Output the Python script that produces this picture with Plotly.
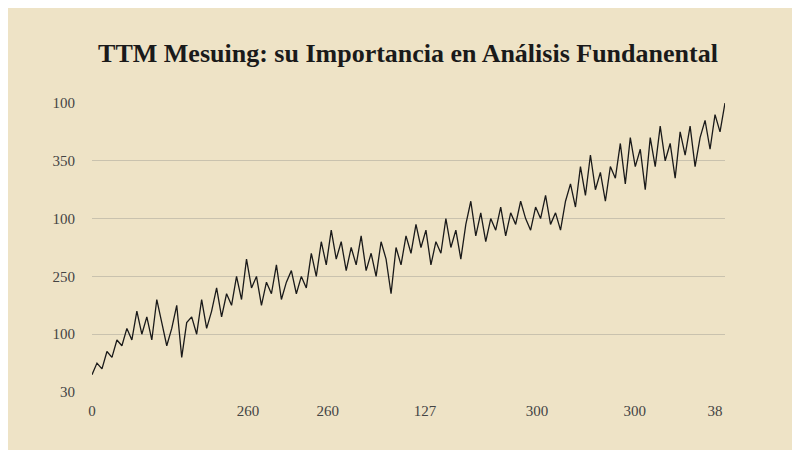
import plotly.graph_objects as go

# series values (grid units, bottom gridline = 0, top gridline = 5)
values = [
    0.3, 0.5, 0.4, 0.7, 0.6, 0.9, 0.8, 1.1, 0.9, 1.4, 1.0, 1.3, 0.9, 1.6, 1.2, 0.8,
    1.1, 1.5, 0.6, 1.2, 1.3, 1.0, 1.6, 1.1, 1.4, 1.8, 1.3, 1.7, 1.5, 2.0, 1.6, 2.3,
    1.8, 2.0, 1.5, 1.9, 1.7, 2.2, 1.6, 1.9, 2.1, 1.7, 2.0, 1.8, 2.4, 2.0, 2.6, 2.2,
    2.8, 2.3, 2.6, 2.1, 2.5, 2.2, 2.7, 2.1, 2.4, 2.0, 2.6, 2.3, 1.7, 2.5, 2.2, 2.7,
    2.4, 2.9, 2.5, 2.8, 2.2, 2.6, 2.4, 3.0, 2.5, 2.8, 2.3, 2.9, 3.3, 2.7, 3.1, 2.6,
    3.0, 2.8, 3.2, 2.7, 3.1, 2.9, 3.3, 3.0, 2.8, 3.2, 3.0, 3.4, 2.9, 3.1, 2.8, 3.3,
    3.6, 3.2, 3.9, 3.4, 4.1, 3.5, 3.8, 3.3, 3.9, 3.7, 4.3, 3.6, 4.4, 3.9, 4.2, 3.5,
    4.4, 3.9, 4.6, 4.0, 4.3, 3.7, 4.5, 4.1, 4.6, 3.9, 4.4, 4.7, 4.2, 4.8, 4.5, 5.0,
]
x = list(range(len(values)))

y_tickvals = [0, 1, 2, 3, 4, 5]
y_ticktext = ["30", "100", "250", "100", "350", "100"]
x_tickvals = [0, 31.3, 47.3, 66.8, 89.3, 108.9, 125]
x_ticktext = ["0", "260", "260", "127", "300", "300", "38"]

fig = go.Figure(go.Scatter(x=x, y=values, mode="lines",
                           line=dict(color="#1a1a1a", width=1.3)))

fig.update_layout(
    width=800, height=450,
    paper_bgcolor="#eee3c6", plot_bgcolor="rgba(0,0,0,0)",
    margin=dict(l=84, r=83, t=95, b=66),
    showlegend=False,
    title=dict(text="<b>TTM Mesuing: su Importancia en Análisis Fundanental</b>",
               x=0.5, y=0.9, xanchor="center", yanchor="middle",
               font=dict(family="Liberation Serif", size=26, color="#1a1a1a")),
    font=dict(family="Liberation Serif", size=15, color="#444"),
)
fig.update_xaxes(range=[0, 127], tickvals=x_tickvals, ticktext=x_ticktext,
                 showgrid=False, zeroline=False, showline=False, ticklen=0,
                 ticklabelstandoff=8)
fig.update_yaxes(range=[0, 5], tickvals=y_tickvals, ticktext=y_ticktext,
                 showgrid=True, gridcolor="#c9c2ae", gridwidth=1.2,
                 zeroline=False, showline=False, ticklen=0, ticklabelstandoff=16)

fig.write_html("out.html")
